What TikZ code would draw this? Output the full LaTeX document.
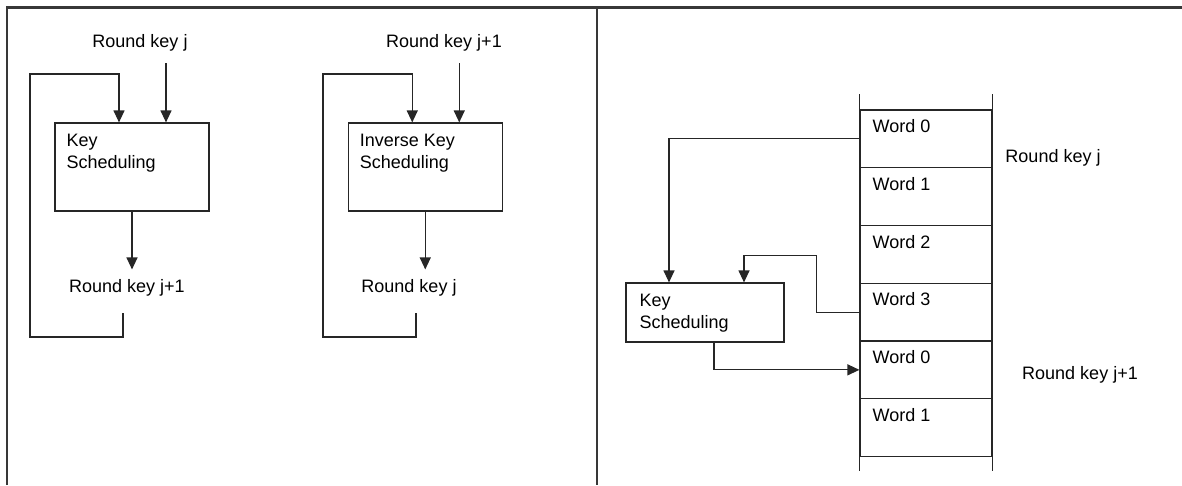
\documentclass[tikz,border=0pt]{standalone}
\usepackage{fontspec}
\setmainfont{Liberation Sans}
\usetikzlibrary{arrows.meta}
\begin{document}
\begin{tikzpicture}[
x=1pt,y=-1pt,
>={Triangle[length=12pt,width=11pt]},
font=\fontsize{18}{22}\selectfont,
line/.style={draw,line width=1.2pt,color=black!85},
frame/.style={draw,line width=2.5pt,color=black!78},
block/.style={draw,line width=1.2pt,color=black!85,minimum width=154pt,minimum height=88pt,inner sep=0pt},
smallblock/.style={block,minimum width=158pt,minimum height=59pt},
cell/.style={draw,line width=1.2pt,color=black!85,minimum width=132pt,minimum height=57.75pt,inner sep=0pt},
blabel/.style={anchor=north west,align=left,inner xsep=12pt,inner ysep=12pt},
key/.style={anchor=base}
]
\useasboundingbox (0,0) rectangle (1182,485);

%frame
\path[frame] (7,485) -- (7,7.5) -- (1182,7.5);
\path[frame] (597,7.5) -- (597,485);

%key scheduling
\node[key] (rk1) at (140,47) {Round key j};
\node[block] (ks1) at (132,167) {};
	\node[blabel] at (ks1.north west) {Key\\Scheduling};
\node[key] (rk2) at (127,292) {Round key j+1};
\coordinate (lp1) at (123,313);

\path[line,->,shorten <=9pt] ([xshift=34pt]ks1.north |- rk1.south) -- ([xshift=34pt]ks1.north);
\path[line,->,shorten >=6pt] (ks1.south) -- (ks1.south |- rk2.north);
\path[line,->] (lp1) -- ++(0,24) -- ++(-93,0) -- ++(0,-263) -| ([xshift=-13pt]ks1.north);

%inverse key scheduling
\node[key] (rk3) at (444,47) {Round key j+1};
\node[block] (ks2) at (425.25,167) {};
	\node[blabel] at (ks2.north west) {Inverse Key\\Scheduling};
\node[key] (rk4) at (409,292) {Round key j};
\coordinate (lp2) at (416,313);

\path[line,->,shorten <=9pt] ([xshift=34pt]ks2.north |- rk3.south) -- ([xshift=34pt]ks2.north);
\path[line,->,shorten >=6pt] (ks2.south) -- (ks2.south |- rk4.north);
\path[line,->] (lp2) -- ++(0,24) -- ++(-93,0) -- ++(0,-263) -| ([xshift=-13pt]ks2.north);

%words
\foreach \w [count=\i] in {0,1,2,3,0,1} {
	\node[cell] (w\i) at (926,{81.1+57.75*\i}) {};
	\node[blabel,inner xsep=13pt,inner ysep=10pt] at (w\i.north west) {Word \w};
}
\path[line] (w1.north west) -- ++(0,-15);
\path[line] (w1.north east) -- ++(0,-15);
\path[line] (w6.south west) -- ++(0,14);
\path[line] (w6.south east) -- ++(0,14);

\node[key] (rkj) at (1053,162) {Round key j};
\node[key] (rkj1) at (1080,379) {Round key j+1};

\node[smallblock] (ks3) at (705,312.5) {};
	\node[blabel,inner xsep=14pt] at (ks3.north west) {Key\\Scheduling};

\path[line,->] (w1.west) -| ([xshift=-36pt]ks3.north);
\path[line,->] (w4.west) -- ++(-43,0) -- ++(0,-57) -| ([xshift=39pt]ks3.north);
\path[line,->] ([xshift=9pt]ks3.south) |- (w5.west);

\end{tikzpicture}
\end{document}
